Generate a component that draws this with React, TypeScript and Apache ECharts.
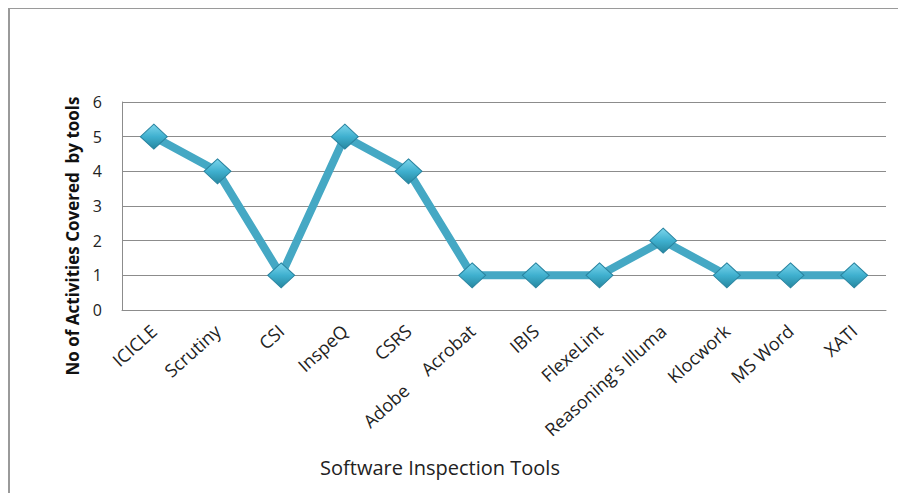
import React, { useEffect, useRef } from "react";
import * as echarts from "echarts";

const categories = [
  "ICICLE",
  "Scrutiny",
  "CSI",
  "InspeQ",
  "CSRS",
  "Adobe     Acrobat",
  "IBIS",
  "FlexeLint",
  "Reasoning's Illuma",
  "Klocwork",
  "MS Word",
  "XATI",
];
const activities = [5, 4, 1, 5, 4, 1, 1, 1, 2, 1, 1, 1];
const yTicks = { min: 0, max: 6, interval: 1 };
const xTitle = "Software Inspection Tools";
const yTitle = "No of Activities Covered  by tools";

export default function App() {
  const ref = useRef<HTMLDivElement>(null);
  useEffect(() => {
    if (!ref.current) return;
    const chart = echarts.init(ref.current, undefined, { renderer: "svg" });
    const font = "'Open Sans', 'Liberation Sans', sans-serif";
    chart.setOption({
      animation: false,
      backgroundColor: "#ffffff",
      textStyle: { fontFamily: font },
      grid: { left: 122, right: 20, top: 102, bottom: 183, containLabel: false },
      graphic: [
        {
          type: "line",
          shape: { x1: 9, y1: 8, x2: 906, y2: 8 },
          style: { stroke: "#9a9a9a", lineWidth: 2 },
        },
        {
          type: "line",
          shape: { x1: 9, y1: 8, x2: 9, y2: 493 },
          style: { stroke: "#9a9a9a", lineWidth: 2 },
        },
        {
          type: "text",
          x: 72,
          y: 236,
          rotation: Math.PI / 2,
          style: {
            text: yTitle,
            fontFamily: font,
            fontSize: 17,
            fontWeight: "bold",
            fill: "#111",
            align: "center",
            verticalAlign: "middle",
          },
        },
        {
          type: "text",
          x: 440,
          y: 467,
          style: {
            text: xTitle,
            fontFamily: font,
            fontSize: 20,
            fill: "#222",
            align: "center",
            verticalAlign: "middle",
          },
        },
      ],
      xAxis: {
        type: "category",
        data: categories,
        boundaryGap: true,
        axisLine: { show: true, lineStyle: { color: "#8c8c8c", width: 1 } },
        axisTick: { show: false },
        axisLabel: {
          rotate: 42,
          interval: 0,
          margin: 18,
          fontSize: 18,
          color: "#222",
          fontFamily: font,
        },
      },
      yAxis: {
        type: "value",
        min: yTicks.min,
        max: yTicks.max,
        interval: yTicks.interval,
        axisLine: { show: true, lineStyle: { color: "#8c8c8c", width: 1 } },
        axisTick: { show: false },
        splitLine: { show: true, lineStyle: { color: "#8c8c8c", width: 1 } },
        axisLabel: { fontSize: 16, color: "#222", margin: 20, fontFamily: font },
      },
      series: [
        {
          type: "line",
          data: activities,
          lineStyle: { color: "#45A8C4", width: 8 },
          symbol: "diamond",
          symbolSize: [27, 25],
          itemStyle: {
            color: new echarts.graphic.LinearGradient(0, 0, 0, 1, [
              { offset: 0, color: "#7dd6ec" },
              { offset: 0.5, color: "#3fb0cf" },
              { offset: 1, color: "#26879f" },
            ]),
            borderColor: "#2a84a0",
            borderWidth: 1,
          },
        },
      ],
    });
    return () => chart.dispose();
  }, []);
  return <div ref={ref} style={{ width: 906, height: 493, marginLeft: -8, marginTop: -8 }} />;
}
